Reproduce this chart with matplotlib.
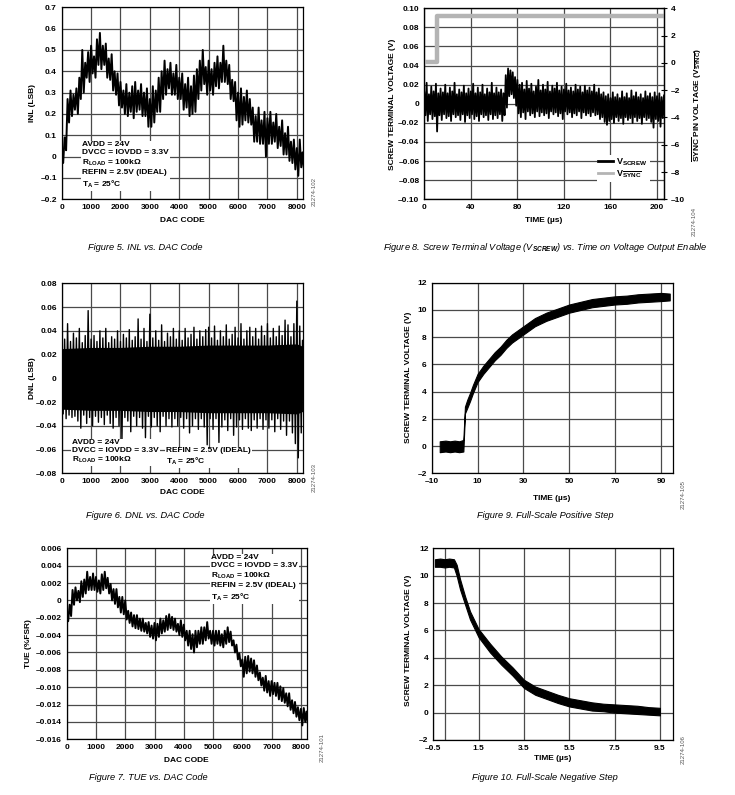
import numpy as np
import matplotlib
matplotlib.use("Agg")
import matplotlib.pyplot as plt

plt.rcParams['font.family'] = ['Liberation Sans', 'DejaVu Sans']
plt.rcParams['font.weight'] = 'bold'
plt.rcParams['font.size'] = 6
plt.rcParams['mathtext.fontset'] = 'custom'
plt.rcParams['mathtext.rm'] = 'Liberation Sans'
plt.rcParams['mathtext.bf'] = 'Liberation Sans:bold'
plt.rcParams['mathtext.it'] = 'Liberation Sans:italic'

# ---------------- data ----------------
# INL / DNL / TUE vs DAC code: noise peaks (high / low) every 100 codes
dac_code = list(range(0, 8200, 100)) + [8192]

inl_hi = [0.00, 0.09, 0.27, 0.31, 0.29, 0.32, 0.37, 0.50, 0.44, 0.49,
          0.52, 0.47, 0.55, 0.58, 0.52, 0.53, 0.46, 0.48, 0.40, 0.39,
          0.35, 0.31, 0.34, 0.30, 0.33, 0.35, 0.31, 0.34, 0.30, 0.32,
          0.27, 0.33, 0.31, 0.37, 0.40, 0.45, 0.41, 0.44, 0.39, 0.43,
          0.37, 0.39, 0.34, 0.37, 0.33, 0.38, 0.41, 0.45, 0.50, 0.42,
          0.45, 0.41, 0.44, 0.47, 0.44, 0.52, 0.45, 0.43, 0.36, 0.35,
          0.30, 0.32, 0.28, 0.31, 0.27, 0.23, 0.19, 0.23, 0.17, 0.21,
          0.18, 0.21, 0.16, 0.20, 0.14, 0.17, 0.11, 0.14, 0.07, 0.08,
          0.04, 0.08, 0.02]
inl_lo = [-0.03, 0.03, 0.16, 0.19, 0.22, 0.20, 0.27, 0.30, 0.37, 0.35,
          0.39, 0.37, 0.43, 0.41, 0.43, 0.37, 0.36, 0.31, 0.29, 0.24,
          0.23, 0.20, 0.19, 0.21, 0.18, 0.21, 0.22, 0.19, 0.19, 0.14,
          0.14, 0.16, 0.21, 0.21, 0.27, 0.29, 0.32, 0.29, 0.29, 0.27,
          0.27, 0.22, 0.23, 0.19, 0.20, 0.21, 0.27, 0.31, 0.34, 0.29,
          0.31, 0.29, 0.33, 0.32, 0.35, 0.35, 0.34, 0.27, 0.26, 0.17,
          0.14, 0.15, 0.17, 0.16, 0.15, 0.07, 0.07, 0.06, 0.06, 0.00,
          0.06, 0.06, 0.07, 0.04, 0.05, 0.01, 0.01, -0.02, -0.03, -0.06,
          -0.09, -0.05, -0.06]

dnl_hi = [0.030, 0.033, 0.046, 0.031, 0.038, 0.034, 0.042, 0.030, 0.036, 0.057,
          0.033, 0.036, 0.031, 0.040, 0.034, 0.042, 0.030, 0.035, 0.033, 0.040,
          0.031, 0.037, 0.034, 0.041, 0.032, 0.035, 0.050, 0.033, 0.042, 0.031,
          0.054, 0.034, 0.040, 0.032, 0.045, 0.031, 0.038, 0.035, 0.042, 0.033,
          0.040, 0.032, 0.042, 0.034, 0.037, 0.043, 0.033, 0.040, 0.035, 0.041,
          0.043, 0.034, 0.044, 0.032, 0.040, 0.035, 0.045, 0.033, 0.037, 0.043,
          0.034, 0.046, 0.033, 0.040, 0.043, 0.035, 0.042, 0.033, 0.044, 0.036,
          0.046, 0.034, 0.042, 0.035, 0.044, 0.036, 0.049, 0.045, 0.035, 0.046,
          0.065, 0.044, 0.032]
dnl_lo = [-0.030, -0.034, -0.031, -0.033, -0.032, -0.036, -0.042, -0.031, -0.038, -0.033,
          -0.040, -0.032, -0.037, -0.033, -0.039, -0.031, -0.038, -0.042, -0.033, -0.040,
          -0.052, -0.033, -0.036, -0.045, -0.032, -0.040, -0.033, -0.042, -0.050, -0.032,
          -0.041, -0.033, -0.040, -0.045, -0.032, -0.040, -0.034, -0.041, -0.034, -0.040,
          -0.033, -0.042, -0.034, -0.046, -0.040, -0.034, -0.043, -0.034, -0.041, -0.056,
          -0.034, -0.043, -0.034, -0.054, -0.041, -0.035, -0.044, -0.034, -0.048, -0.041,
          -0.035, -0.043, -0.034, -0.042, -0.044, -0.035, -0.042, -0.034, -0.043, -0.035,
          -0.042, -0.035, -0.045, -0.034, -0.043, -0.036, -0.048, -0.036, -0.046, -0.055,
          -0.067, -0.046, -0.038]
# solid core of the DNL noise band, every 1000 codes
dnl_core_code = [0, 1000, 2000, 3000, 4000, 5000, 6000, 7000, 8000, 8192]
dnl_core_hi = [0.025, 0.026, 0.026, 0.027, 0.027, 0.028, 0.028, 0.028, 0.029, 0.027]
dnl_core_lo = [-0.026, -0.027, -0.027, -0.028, -0.028, -0.029, -0.029, -0.029, -0.030, -0.028]

tue_hi = [-0.0012, -0.0005, 0.0012, 0.0015, 0.0011, 0.0022, 0.0024, 0.0033, 0.0027, 0.0031,
          0.0027, 0.0023, 0.0030, 0.0033, 0.0026, 0.0019, 0.0013, 0.0013, 0.0004, 0.0004,
          0.0000, -0.0012, -0.0014, -0.0017, -0.0017, -0.0021, -0.0021, -0.0026, -0.0025, -0.0029,
          -0.0026, -0.0027, -0.0021, -0.0023, -0.0018, -0.0016, -0.0019, -0.0021, -0.0027, -0.0023,
          -0.0028, -0.0035, -0.0035, -0.0039, -0.0035, -0.0035, -0.0031, -0.0031, -0.0025, -0.0035,
          -0.0035, -0.0035, -0.0035, -0.0039, -0.0035, -0.0031, -0.0036, -0.0046, -0.0051, -0.0061,
          -0.0068, -0.0065, -0.0064, -0.0067, -0.0069, -0.0075, -0.0083, -0.0089, -0.0087, -0.0093,
          -0.0093, -0.0095, -0.0095, -0.0099, -0.0101, -0.0107, -0.0107, -0.0115, -0.0117, -0.0123,
          -0.0125, -0.0124, -0.0128]
tue_lo = [-0.0024, -0.0018, -0.0005, 0.0000, -0.0002, 0.0004, 0.0008, 0.0012, 0.0012, 0.0012,
          0.0010, 0.0008, 0.0012, 0.0014, 0.0008, 0.0000, -0.0004, -0.0008, -0.0014, -0.0016,
          -0.0022, -0.0026, -0.0030, -0.0032, -0.0033, -0.0035, -0.0036, -0.0038, -0.0042, -0.0044,
          -0.0046, -0.0042, -0.0038, -0.0036, -0.0034, -0.0032, -0.0034, -0.0036, -0.0040, -0.0042,
          -0.0046, -0.0052, -0.0056, -0.0060, -0.0054, -0.0050, -0.0050, -0.0046, -0.0044, -0.0050,
          -0.0052, -0.0050, -0.0052, -0.0054, -0.0050, -0.0048, -0.0052, -0.0060, -0.0068, -0.0076,
          -0.0088, -0.0084, -0.0082, -0.0084, -0.0088, -0.0092, -0.0098, -0.0104, -0.0106, -0.0110,
          -0.0108, -0.0110, -0.0114, -0.0116, -0.0118, -0.0122, -0.0126, -0.0130, -0.0134, -0.0138,
          -0.0144, -0.0140, -0.0142]

# Screw terminal voltage on output enable, every 2 us
screw_t = list(range(0, 208, 2))
screw_hi = [0.012, 0.022, 0.010, 0.018, 0.013, 0.021, 0.011, 0.016, 0.012, 0.020,
            0.011, 0.017, 0.013, 0.022, 0.010, 0.015, 0.012, 0.019, 0.011, 0.016,
            0.013, 0.021, 0.011, 0.017, 0.012, 0.020, 0.010, 0.016, 0.012, 0.022,
            0.011, 0.017, 0.012, 0.015, 0.011, 0.030, 0.037, 0.035, 0.033, 0.028,
            0.025, 0.020, 0.022, 0.015, 0.024, 0.016, 0.021, 0.013, 0.018, 0.025,
            0.014, 0.020, 0.015, 0.023, 0.013, 0.019, 0.016, 0.022, 0.014, 0.018,
            0.015, 0.021, 0.014, 0.017, 0.013, 0.020, 0.015, 0.018, 0.012, 0.019,
            0.014, 0.017, 0.013, 0.020, 0.012, 0.016, 0.010, 0.012, 0.008, 0.010,
            0.006, 0.012, 0.007, 0.010, 0.006, 0.013, 0.007, 0.011, 0.006, 0.014,
            0.008, 0.012, 0.007, 0.010, 0.006, 0.013, 0.008, 0.011, 0.007, 0.012,
            0.008, 0.011, 0.007, 0.009]
screw_lo = [-0.012, -0.018, -0.011, -0.016, -0.013, -0.029, -0.012, -0.017, -0.011, -0.015,
            -0.013, -0.018, -0.011, -0.014, -0.012, -0.017, -0.011, -0.019, -0.012, -0.015,
            -0.011, -0.016, -0.013, -0.018, -0.011, -0.014, -0.012, -0.017, -0.011, -0.016,
            -0.012, -0.015, -0.011, -0.018, -0.012, -0.004, 0.008, 0.010, 0.006, -0.002,
            -0.010, -0.014, -0.009, -0.016, -0.008, -0.012, -0.010, -0.014, -0.008, -0.013,
            -0.009, -0.012, -0.010, -0.015, -0.008, -0.011, -0.009, -0.013, -0.010, -0.016,
            -0.008, -0.011, -0.009, -0.014, -0.010, -0.012, -0.008, -0.015, -0.009, -0.012,
            -0.010, -0.013, -0.009, -0.012, -0.011, -0.016, -0.014, -0.019, -0.022, -0.018,
            -0.016, -0.020, -0.014, -0.018, -0.015, -0.021, -0.014, -0.017, -0.015, -0.020,
            -0.014, -0.018, -0.015, -0.021, -0.014, -0.017, -0.015, -0.019, -0.025, -0.016,
            -0.018, -0.024, -0.015, -0.019]
sync_t = [0, 10.6, 10.6, 206]
sync_v = [0.1, 0.1, 3.45, 3.45]

# Full-scale positive step
pos_t = [-6.5, -4, -2, 0, 2, 3.8, 4.5, 5.5, 6.7, 8, 10, 12.5, 15, 17.5, 20, 22.5,
         25, 27.5, 30, 35, 40, 45, 50, 55, 60, 65, 70, 75, 80, 85, 90, 93.8]
pos_hi = [0.35, 0.4, 0.35, 0.4, 0.35, 0.45, 2.9, 3.4, 3.9, 4.5, 5.3, 5.9, 6.4, 6.9, 7.3, 7.8,
          8.2, 8.5, 8.8, 9.4, 9.8, 10.1, 10.4, 10.6, 10.8, 10.9, 11.0, 11.05, 11.15, 11.2, 11.25, 11.2]
pos_lo = [-0.45, -0.4, -0.45, -0.4, -0.45, -0.4, 2.4, 2.8, 3.3, 3.9, 4.7, 5.3, 5.8, 6.3, 6.7, 7.2,
          7.6, 7.9, 8.2, 8.8, 9.2, 9.5, 9.8, 10.0, 10.2, 10.3, 10.4, 10.45, 10.55, 10.6, 10.65, 10.7]

# Full-scale negative step
neg_t = [-0.43, -0.2, 0.0, 0.2, 0.41, 0.53, 0.68, 0.9, 1.12, 1.5, 2.0, 2.5, 3.0, 3.5,
         4.0, 4.5, 5.0, 5.5, 6.0, 6.5, 7.0, 7.5, 8.0, 8.5, 9.0, 9.5]
neg_hi = [11.2, 11.25, 11.2, 11.25, 11.2, 10.8, 9.75, 8.5, 7.4, 6.1, 5.05, 4.1, 3.3, 2.4,
          1.9, 1.6, 1.3, 1.05, 0.9, 0.75, 0.65, 0.6, 0.55, 0.5, 0.4, 0.35]
neg_lo = [10.65, 10.65, 10.6, 10.65, 10.6, 10.0, 9.0, 7.9, 6.8, 5.5, 4.4, 3.5, 2.7, 1.8,
          1.3, 1.0, 0.7, 0.45, 0.3, 0.15, 0.1, 0.0, -0.05, -0.1, -0.15, -0.2]

# ---------------- layout ----------------
W, H = 735, 795
fig = plt.figure(figsize=(W / 100, H / 100), dpi=100)
GRID = '#4a4a4a'


def add_ax(x0, y0, x1, y1):
    return fig.add_axes([x0 / W, 1 - y1 / H, (x1 - x0) / W, (y1 - y0) / H])


def lab(v, nd):
    if v == 0:
        return '0'
    return f'{v:.{nd}f}'.replace('-', '\u2013')


def style(ax, xticks, xnd, yticks, ynd, xlim, ylim):
    ax.set_xlim(*xlim)
    ax.set_ylim(*ylim)
    ax.set_xticks(xticks, [lab(v, xnd) for v in xticks])
    ax.set_yticks(yticks, [lab(v, ynd) for v in yticks])
    ax.tick_params(length=0, pad=3.5, labelsize=6)
    ax.grid(True, color=GRID, lw=0.9)
    ax.set_axisbelow(True)
    for s in ax.spines.values():
        s.set_linewidth(0.9)


def noisy(ax, x, hi, lo, step, lw=1.4):
    # trace going peak -> trough between neighbouring samples
    xs = np.ravel(np.column_stack([x, np.asarray(x) + step / 2]))
    ys = np.ravel(np.column_stack([hi, lo]))
    ax.plot(xs, ys, color='black', lw=lw)


def ftext(x, y, s, **kw):
    return fig.text(x / W, 1 - y / H, s, **kw)


box = dict(facecolor='white', edgecolor='none', pad=0.8)
cap = dict(style='italic', weight='normal', fontsize=6.7, ha='center', va='center')
idk = dict(rotation=90, fontsize=4.3, weight='normal', color='#555555', ha='center', va='center')

# Figure 5: INL
ax1 = add_ax(61.7, 7.3, 302.7, 199.3)
noisy(ax1, dac_code, inl_hi, inl_lo, 100)
style(ax1, range(0, 9000, 1000), 0, np.arange(-0.2, 0.71, 0.1).round(1), 1, (0, 8200), (-0.2, 0.7))
ftext(33, 103, 'INL (LSB)', rotation=90, ha='center', va='center')
ftext(182, 220, 'DAC CODE', ha='center', va='center')
ftext(81.7, 141, 'AVDD = 24V\nDVCC = IOVDD = 3.3V\n$\\mathbf{R_{LOAD}}$ = 100k\u03a9\n'
      'REFIN = 2.5V (IDEAL)\n$\\mathbf{T_{A}}$ = 25°C', va='top', linespacing=1.25, bbox=box)
ftext(145, 248, 'Figure 5. INL vs. DAC Code', **cap)
ftext(314, 192, '21274-102', **idk)

# Figure 8: screw terminal voltage on output enable
ax2 = add_ax(424.3, 8.3, 664, 199.3)
noisy(ax2, screw_t, screw_hi, screw_lo, 2, lw=1.3)
style(ax2, range(0, 201, 40), 0, np.arange(-0.1, 0.101, 0.02).round(2), 2, (0, 206), (-0.1, 0.1))
ax2b = ax2.twinx()
ax2b.plot(sync_t, sync_v, color='#b4b4b4', lw=3.2, solid_capstyle='butt')
ax2b.set_ylim(-10, 4)
ax2b.set_yticks(range(-10, 5, 2), [lab(v, 0) for v in range(-10, 5, 2)])
ax2b.tick_params(direction='inout', length=4, width=0.8, pad=3, labelsize=6)
ax2b.spines['right'].set_linewidth(0.9)
h1, = ax2.plot([], [], color='black', lw=2)
h2, = ax2.plot([], [], color='#b4b4b4', lw=2)
ax2.legend([h1, h2], ['$\\mathbf{V_{SCREW}}$', '$\\mathbf{V_{\\overline{SYNC}}}$'],
           loc='upper left', bbox_to_anchor=((592 - 424.3) / 239.7, 1 - (150 - 8.3) / 191),
           frameon=True, fancybox=False, framealpha=1, edgecolor='none', fontsize=6.5,
           handlelength=1.6, handletextpad=0.4, borderpad=0.2, labelspacing=0.1)
ftext(393, 104, 'SCREW TERMINAL VOLTAGE (V)', rotation=90, ha='center', va='center')
ftext(697, 105, '$\\overline{\\mathbf{SYNC}}$ PIN VOLTAGE ($\\mathbf{V_{\\overline{SYNC}}}$)',
      rotation=90, ha='center', va='center')
ftext(544, 221, 'TIME (\u00b5s)', ha='center', va='center')
ftext(545, 248, 'Figure 8. Screw Terminal Voltage (V$_{\\mathit{SCREW}}$) vs. Time on Voltage Output Enable',
      **cap)
ftext(694, 222, '21274-104', **idk)

# Figure 6: DNL
ax3 = add_ax(61.7, 283.3, 302.7, 473.3)
ax3.fill_between(dnl_core_code, dnl_core_lo, dnl_core_hi, color='black', lw=0)
noisy(ax3, dac_code, dnl_hi, dnl_lo, 100, lw=1.0)
style(ax3, range(0, 9000, 1000), 0, np.arange(-0.08, 0.081, 0.02).round(2), 2, (0, 8200), (-0.08, 0.08))
ftext(33, 378, 'DNL (LSB)', rotation=90, ha='center', va='center')
ftext(182, 493, 'DAC CODE', ha='center', va='center')
ftext(71.7, 438.5, 'AVDD = 24V\nDVCC = IOVDD = 3.3V\n$\\mathbf{R_{LOAD}}$ = 100k\u03a9',
      va='top', linespacing=1.2, bbox=box)
ftext(166, 447.5, 'REFIN = 2.5V (IDEAL)\n$\\mathbf{T_{A}}$ = 25°C', va='top', linespacing=1.2, bbox=box)
ftext(145, 516, 'Figure 6. DNL vs. DAC Code', **cap)
ftext(314, 477, '21274-103', **idk)

# Figure 9: positive step
ax4 = add_ax(431.7, 282.7, 672.7, 473.3)
ax4.fill_between(pos_t, pos_lo, pos_hi, color='black', lw=0.8)
style(ax4, range(-10, 91, 20), 0, range(-2, 13, 2), 0, (-10, 95.1), (-2, 12))
ftext(409, 377, 'SCREW TERMINAL VOLTAGE (V)', rotation=90, ha='center', va='center')
ftext(552, 499, 'TIME (\u00b5s)', ha='center', va='center')
ftext(545, 516, 'Figure 9. Full-Scale Positive Step', **cap)
ftext(683, 495, '21274-105', **idk)

# Figure 7: TUE
ax5 = add_ax(66.7, 548.3, 306.7, 739.3)
noisy(ax5, dac_code, tue_hi, tue_lo, 100)
style(ax5, range(0, 9000, 1000), 0, np.arange(-0.016, 0.0061, 0.002).round(3), 3, (0, 8200), (-0.016, 0.006))
ftext(29, 644, 'TUE (%FSR)', rotation=90, ha='center', va='center')
ftext(186, 761, 'DAC CODE', ha='center', va='center')
ftext(210.7, 554, 'AVDD = 24V\nDVCC = IOVDD = 3.3V\n$\\mathbf{R_{LOAD}}$ = 100k\u03a9\n'
      'REFIN = 2.5V (IDEAL)\n$\\mathbf{T_{A}}$ = 25°C', va='top', linespacing=1.25, bbox=box)
ftext(148, 778, 'Figure 7. TUE vs. DAC Code', **cap)
ftext(322, 747, '21274-101', **idk)

# Figure 10: negative step
ax6 = add_ax(433.3, 548.3, 673.3, 740)
ax6.fill_between(neg_t, neg_lo, neg_hi, color='black', lw=0.8)
style(ax6, np.arange(-0.5, 9.6, 2), 1, range(-2, 13, 2), 0, (-0.5, 10.09), (-2, 12))
ax6.axvline(0, color=GRID, lw=0.9, zorder=0.5)
ftext(409, 640, 'SCREW TERMINAL VOLTAGE (V)', rotation=90, ha='center', va='center')
ftext(553, 759, 'TIME (\u00b5s)', ha='center', va='center')
ftext(545, 778, 'Figure 10. Full-Scale Negative Step', **cap)
ftext(683, 750, '21274-106', **idk)

fig.savefig('out.png', dpi=100)
